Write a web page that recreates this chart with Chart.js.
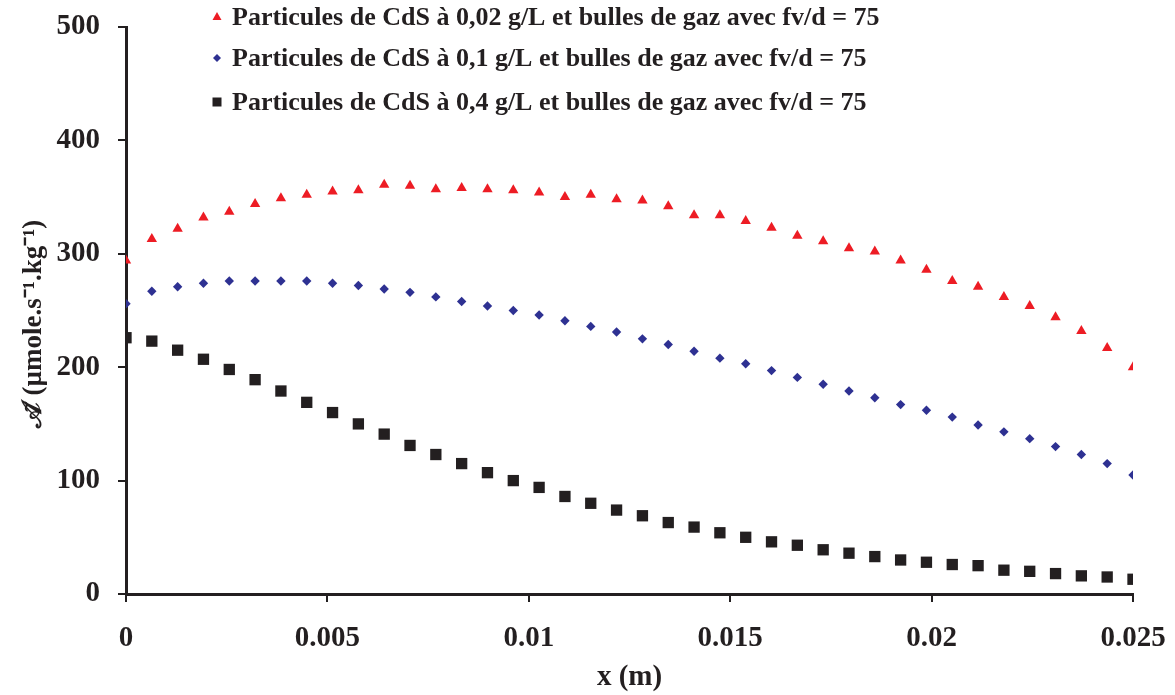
<!DOCTYPE html>
<html>
<head>
<meta charset="utf-8">
<script src="https://cdn.jsdelivr.net/npm/chart.js@4.4.1/dist/chart.umd.min.js"></script>
<style>
  html, body { margin: 0; padding: 0; background: #fff; }
  #wrap { width: 1175px; height: 695px; }
</style>
</head>
<body>
<div id="wrap"><canvas id="graph"></canvas></div>
<script>
// positions along x (m)
const xValues = [0, 0.000641, 0.001282, 0.001923, 0.002564, 0.003205, 0.003846, 0.004487,
    0.005128, 0.005769, 0.006410, 0.007051, 0.007692, 0.008333, 0.008974, 0.009615,
    0.010256, 0.010897, 0.011538, 0.012179, 0.012821, 0.013462, 0.014103, 0.014744,
    0.015385, 0.016026, 0.016667, 0.017308, 0.017949, 0.018590, 0.019231, 0.019872,
    0.020513, 0.021154, 0.021795, 0.022436, 0.023077, 0.023718, 0.024359, 0.025]

// CdS 0,02 g/L
const cds002 = [294, 313, 322, 332, 337, 344, 349, 352, 355, 356, 361, 360, 357, 358,
    357, 356, 354, 350, 352, 348, 347, 342, 334, 334, 329, 323, 316, 311, 305, 302,
    294, 286, 276, 271, 262, 254, 244, 232, 217, 200]

// CdS 0,1 g/L
const cds01 = [256, 267, 271, 274, 276, 276, 276, 276, 274, 272, 269, 266, 262, 258,
    254, 250, 246, 241, 236, 231, 225, 220, 214, 208, 203, 197, 191, 185, 179, 173,
    167, 162, 156, 149, 143, 137, 130, 123, 115, 105]

// CdS 0,4 g/L
const cds04 = [226, 223, 215, 207, 198, 189, 179, 169, 160, 150, 141, 131, 123, 115,
    107, 100, 94, 86, 80, 74, 69, 63, 59, 54, 50, 46, 43, 39, 36, 33,
    30, 28, 26, 25, 21, 20, 18, 16, 15, 13]

const labels = [
    "Particules de CdS à 0,02 g/L et bulles de gaz avec fv/d = 75",
    "Particules de CdS à 0,1 g/L et bulles de gaz avec fv/d = 75",
    "Particules de CdS à 0,4 g/L et bulles de gaz avec fv/d = 75",
]

const xTickLabels = ["0", "0.005", "0.01", "0.015", "0.02", "0.025"]
const yTickLabels = ["0", "100", "200", "300", "400", "500"]

const serif = "'Liberation Serif', 'Times New Roman', serif"

function points(ys) {
    return ys.map((y, i) => ({ x: xValues[i], y: y }))
}

// legend drawn over the top of the plot, like the original figure
const legendInPlot = {
    id: 'legendInPlot',
    afterDraw(chart) {
        const ctx = chart.ctx
        const rows = [17, 58, 102]
        ctx.save()
        chart.data.datasets.forEach((ds, i) => {
            const y = rows[i]
            const mx = 217
            ctx.fillStyle = ds.backgroundColor
            ctx.beginPath()
            if (ds.pointStyle === 'triangle') {
                ctx.moveTo(mx, y - 5)
                ctx.lineTo(mx + 4.5, y + 3)
                ctx.lineTo(mx - 4.5, y + 3)
            } else if (ds.pointStyle === 'rectRot') {
                ctx.moveTo(mx, y - 4)
                ctx.lineTo(mx + 4, y)
                ctx.lineTo(mx, y + 4)
                ctx.lineTo(mx - 4, y)
            } else {
                ctx.rect(mx - 4.5, y - 4.5, 9, 9)
            }
            ctx.closePath()
            ctx.fill()
            ctx.fillStyle = '#231F20'
            ctx.font = "bold 26px " + serif
            ctx.textBaseline = 'middle'
            ctx.fillText(ds.label, 232, y + 1)
        })
        ctx.restore()
    }
}

const data = {
    datasets: [
        {
            label: labels[0],
            data: points(cds002),
            backgroundColor: '#ED1C24',
            borderColor: '#ED1C24',
            pointStyle: 'triangle',
            pointRadius: 6,
            pointBorderWidth: 0,
        },
        {
            label: labels[1],
            data: points(cds01),
            backgroundColor: '#2E3192',
            borderColor: '#2E3192',
            pointStyle: 'rectRot',
            pointRadius: 4.7,
            pointBorderWidth: 0,
        },
        {
            label: labels[2],
            data: points(cds04),
            backgroundColor: '#231F20',
            borderColor: '#231F20',
            pointStyle: 'rect',
            pointRadius: 8,
            pointBorderWidth: 0,
        },
    ],
}

const config = {
    type: 'scatter',
    data: data,
    plugins: [legendInPlot],
    options: {
        responsive: true,
        maintainAspectRatio: false,
        animation: false,
        layout: { padding: { top: 0, right: 0, bottom: 0, left: 14 } },
        plugins: {
            legend: { display: false },
            tooltip: { enabled: false },
        },
        scales: {
            x: {
                type: 'linear',
                min: 0,
                max: 0.025,
                afterFit: (scale) => {
                    scale.height = 101
                    scale.paddingRight = 42
                },
                ticks: {
                    stepSize: 0.005,
                    maxRotation: 0,
                    color: '#231F20',
                    font: { family: serif, size: 29, weight: 'bold' },
                    padding: 19,
                    callback: (v, i) => xTickLabels[i],
                },
                grid: {
                    drawOnChartArea: false,
                    color: '#231F20',
                    lineWidth: 2,
                    tickLength: 8,
                },
                border: { color: '#231F20', width: 3 },
                title: {
                    display: true,
                    text: 'x (m)',
                    color: '#231F20',
                    font: { family: serif, size: 29, weight: 'bold' },
                    padding: { top: 0, bottom: 0 },
                },
            },
            y: {
                min: 0,
                max: 500,
                afterFit: (scale) => {
                    scale.width = 112
                    scale.paddingTop = 27
                    scale.paddingBottom = 0
                },
                ticks: {
                    stepSize: 100,
                    color: '#231F20',
                    font: { family: serif, size: 29, weight: 'bold' },
                    padding: 18,
                    callback: (v, i) => yTickLabels[i],
                },
                grid: {
                    drawOnChartArea: false,
                    color: '#231F20',
                    lineWidth: 2,
                    tickLength: 8,
                },
                border: { color: '#231F20', width: 3 },
                title: {
                    display: true,
                    text: '𝒜̃ (µmole.s⁻¹.kg⁻¹)\u00a0\u00a0\u00a0\u00a0',
                    color: '#231F20',
                    font: { family: serif, size: 27, weight: 'bold' },
                    padding: { top: 4, bottom: 0 },
                },
            },
        },
    },
}

// make sure the serif font is ready before Chart.js measures its labels
Promise.all([
    document.fonts.load("bold 29px 'Liberation Serif'"),
    document.fonts.load("bold 26px 'Liberation Serif'"),
]).catch(() => {}).then(() => {
    new Chart(document.getElementById("graph").getContext("2d"), config)
})
</script>
</body>
</html>
